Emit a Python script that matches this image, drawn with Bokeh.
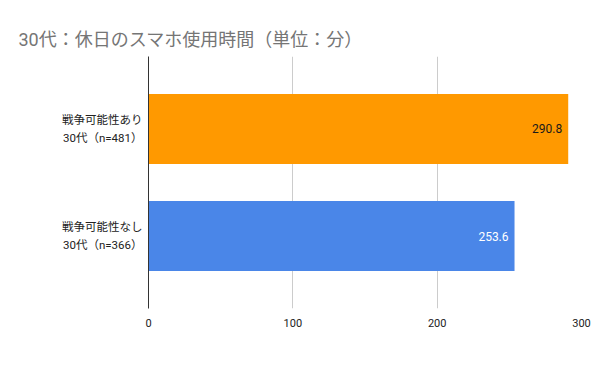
from bokeh.plotting import figure
from bokeh.models import FactorRange, Range1d, ColumnDataSource, FixedTicker
from bokeh.core.properties import value
from bokeh.embed import file_html
from bokeh.resources import INLINE

title_text = "30代：休日のスマホ使用時間（単位：分）"
groups = ["戦争可能性あり", "戦争可能性なし"]
sublabels = ["30代（n=481）", "30代（n=366）"]
values = [290.8, 253.6]
bar_colors = ["#FF9900", "#4A86E8"]
label_colors = ["#1a1a1a", "#ffffff"]
label_texts = ["290.8", "253.6"]
x_ticks = [0, 100, 200, 300]

FONT = "Roboto, 'Noto Sans CJK JP', sans-serif"
PAD = "\u00a0\u00a0\u00a0"  # nudges the shorter second line to sit right-aligned
categories = [g + "\n" + PAD + s for g, s in zip(groups, sublabels)]

src = ColumnDataSource(dict(cat=categories, val=values, color=bar_colors,
                            lcolor=label_colors, ltext=label_texts))

factors = list(reversed(categories))
y_range = FactorRange(factors=factors,
                      range_padding=0.1775, range_padding_units="absolute")

p = figure(width=592, height=355, y_range=y_range, x_range=Range1d(0, 300),
           output_backend="svg", toolbar_location=None,
           min_border_left=148, min_border_right=11,
           min_border_top=56, min_border_bottom=47)

p.hbar(y="cat", right="val", left=0, height=0.654, color="color", source=src,
       line_color=None)
p.text(x="val", y="cat", text="ltext", text_color="lcolor", source=src,
       x_offset=-6, text_align="right", text_baseline="middle",
       text_font=value(FONT), text_font_size="12px")

p.title.text = title_text
p.title.text_font = FONT
p.title.text_font_size = "18px"
p.title.text_font_style = "normal"
p.title.text_color = "#757575"
p.title.align = "left"
p.title.vertical_align = "top"
p.title.offset = -130
p.title.standoff = 10

p.outline_line_color = None
p.ygrid.grid_line_color = None
p.xgrid.grid_line_color = "#cccccc"
p.xgrid.ticker = FixedTicker(ticks=[100, 200, 300])

p.xaxis.ticker = FixedTicker(ticks=x_ticks)
p.xaxis.axis_line_color = None
p.xaxis.major_tick_line_color = None
p.xaxis.minor_tick_line_color = None
p.xaxis.major_label_text_font = FONT
p.xaxis.major_label_text_font_size = "11px"
p.xaxis.major_label_text_color = "#222222"
p.xaxis.major_label_standoff = 4

p.yaxis.axis_line_color = "#333333"
p.yaxis.axis_line_width = 1
p.yaxis.major_tick_line_color = None
p.yaxis.minor_tick_line_color = None
p.yaxis.major_label_text_font = FONT
p.yaxis.major_label_text_font_size = "11.5px"
p.yaxis.major_label_text_color = "#222222"
p.yaxis.major_label_text_align = "right"
p.yaxis.major_label_text_line_height = 1.3
p.yaxis.major_label_standoff = 0

open("out.html", "w").write(file_html(p, INLINE))
